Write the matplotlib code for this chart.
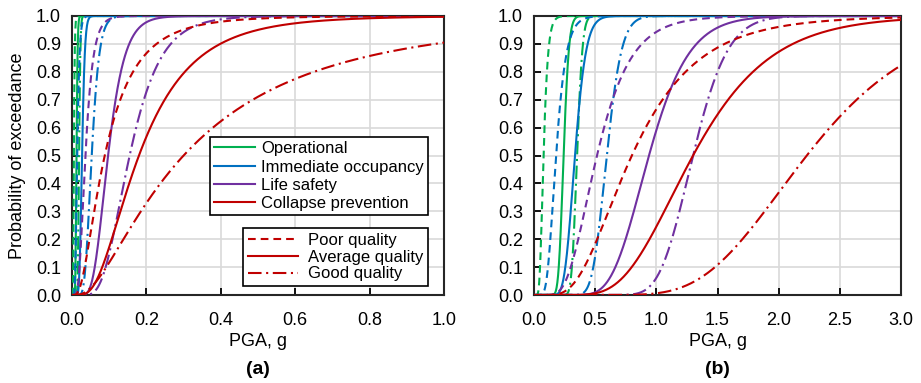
import math
import numpy as np
import matplotlib
matplotlib.use('Agg')
import matplotlib.pyplot as plt
from matplotlib.lines import Line2D

plt.rcParams['font.family'] = ['Liberation Sans', 'DejaVu Sans']

# damage states and construction quality
states = ['Operational', 'Immediate occupancy', 'Life safety', 'Collapse prevention']
qualities = ['Poor quality', 'Average quality', 'Good quality']
state_colors = ['#00b050', '#0070c0', '#7030a0', '#c00000']

# lognormal fragility parameters, rows = damage state, cols = poor / average / good
median_a = [[0.005, 0.012, 0.019],
            [0.014, 0.027, 0.053],
            [0.036, 0.097, 0.155],
            [0.088, 0.180, 0.300]]
beta_a = [[0.35, 0.20, 0.15],
          [0.35, 0.22, 0.30],
          [0.45, 0.36, 0.42],
          [0.74, 0.62, 0.92]]

median_b = [[0.078, 0.242, 0.352],
            [0.180, 0.335, 0.595],
            [0.515, 0.940, 1.300],
            [0.800, 1.300, 2.230]]
beta_b = [[0.36, 0.14, 0.10],
          [0.355, 0.21, 0.16],
          [0.42, 0.27, 0.17],
          [0.52, 0.38, 0.32]]

xmax_a = 1.0
xmax_b = 3.0
xticks_a = [0.0, 0.2, 0.4, 0.6, 0.8, 1.0]
xticks_b = [0.0, 0.5, 1.0, 1.5, 2.0, 2.5, 3.0]
yticks = [i / 10 for i in range(11)]

lw = 1.5
styles = [(0, (3.7, 2.4)), '-', (0, (6.5, 2.2, 1.0, 2.2))]

erf = np.vectorize(math.erf)


def fragility(x, m, b):
    return 0.5 * (1.0 + erf(np.log(x / m) / (b * math.sqrt(2.0))))


def draw_panel(ax, medians, betas, xmax, xticks):
    x = np.linspace(xmax / 4000, xmax, 1500)
    for i in range(len(states)):
        for j in range(len(qualities)):
            ax.plot(x, fragility(x, medians[i][j], betas[i][j]),
                    color=state_colors[i], lw=lw, linestyle=styles[j],
                    zorder=3)
    ax.set_xlim(0, xmax)
    ax.set_ylim(0, 1.0)
    ax.set_xticks(xticks)
    ax.set_yticks(yticks)
    ax.set_xticklabels(['%.1f' % v for v in xticks])
    ax.set_yticklabels(['%.1f' % v for v in yticks])
    ax.grid(True, color='#d9d9d9', lw=1.2, zorder=0)
    ax.set_axisbelow(True)
    ax.tick_params(direction='in', length=5, width=1.3, labelsize=13,
                   colors='black')
    ax.tick_params(axis='x', pad=12)
    ax.tick_params(axis='y', pad=8)
    for s in ax.spines.values():
        s.set_linewidth(1.5)
        s.set_color('#262626')
    ax.set_xlabel('PGA, g', fontsize=13, labelpad=3)


fig = plt.figure(figsize=(9.21, 3.83), dpi=100)
ax_a = fig.add_axes([72 / 921, 88 / 383, 372 / 921, 279 / 383])
ax_b = fig.add_axes([534 / 921, 88 / 383, 367 / 921, 279 / 383])

draw_panel(ax_a, median_a, beta_a, xmax_a, xticks_a)
draw_panel(ax_b, median_b, beta_b, xmax_b, xticks_b)
ax_a.set_ylabel('Probability of exceedance', fontsize=13, labelpad=7)

# legends: damage state colours, then quality line styles
state_handles = [Line2D([], [], color=c, lw=lw) for c in state_colors]
leg1 = ax_a.legend(state_handles, states, loc='upper right',
                   bbox_to_anchor=(0.957, 0.566), fontsize=12,
                   handlelength=2.45, handletextpad=0.36, labelspacing=0.2,
                   borderpad=0.25, borderaxespad=0, fancybox=False,
                   framealpha=1, edgecolor='black')
leg1.get_frame().set_linewidth(1.2)
ax_a.add_artist(leg1)

quality_handles = [Line2D([], [], color=state_colors[3], lw=lw, linestyle=s)
                   for s in styles]
leg2 = ax_a.legend(quality_handles, qualities, loc='upper right',
                   bbox_to_anchor=(0.957, 0.24), fontsize=12,
                   handlelength=3.0, handletextpad=0.55, labelspacing=0.1,
                   borderpad=0.3, borderaxespad=0, fancybox=False,
                   framealpha=1, edgecolor='black')
leg2.get_frame().set_linewidth(1.2)

fig.text((72 + 444) / 2 / 921, 1 - 370 / 383, '(a)', ha='center', va='center',
         fontsize=14, fontweight='bold')
fig.text((534 + 901) / 2 / 921, 1 - 370 / 383, '(b)', ha='center', va='center',
         fontsize=14, fontweight='bold')

fig.savefig('out.png', dpi=100)
